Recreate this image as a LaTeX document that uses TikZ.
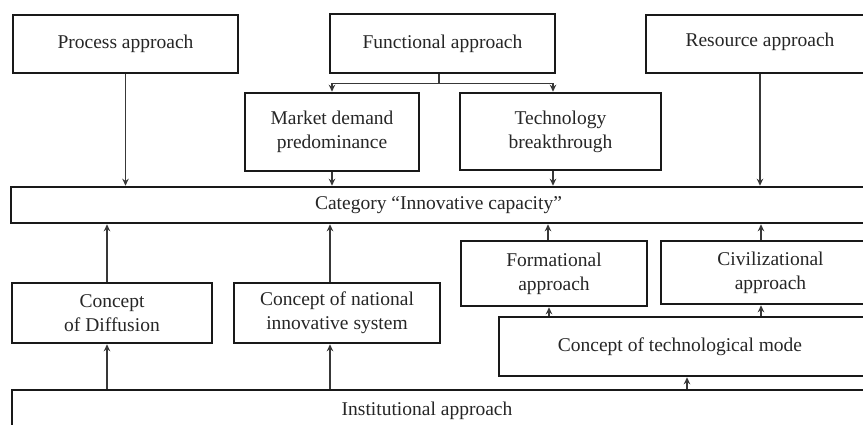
\documentclass[tikz,border=0pt]{standalone}
\usepackage{fontspec}
\setmainfont{Liberation Serif}
\usetikzlibrary{arrows.meta}
\begin{document}
\begin{tikzpicture}[x=1pt,y=-1pt,
  box/.style={draw=black!90, line width=2.6pt, inner sep=0pt, align=center,
    font=\fontsize{19.5}{24}\selectfont, text=black!85},
  txt/.style={inner sep=0pt, align=center, font=\fontsize{19.5}{24}\selectfont, text=black!85},
  arr/.style={line width=1.3pt, draw=black!78, -{Stealth[length=7pt,width=6.5pt]}},
  ln/.style={line width=1.3pt, draw=black!78}]
\useasboundingbox (0,0) rectangle (863,425);
\clip (0,0) rectangle (863,425);
% top row
\node[box, minimum width=225, minimum height=58] (proc) at (125.5,44) {Process approach};
\node[box, minimum width=225, minimum height=59] (func) at (442.5,43.5) {Functional approach};
\node[box, minimum width=234, minimum height=58,
  label={[txt, xshift=-3pt, yshift=2pt]center:Resource approach}] (res) at (763,44) {};
% second row
\node[box, minimum width=174, minimum height=78] (mkt) at (332,132) {Market demand\\predominance};
\node[box, minimum width=201, minimum height=77] (tech) at (560.5,131.5) {Technology\\breakthrough};
% category
\node[box, minimum width=855, minimum height=36] (cat) at (438.5,205) {Category \textquotedblleft Innovative capacity\textquotedblright};
% lower boxes
\node[box, minimum width=186, minimum height=65] (form) at (554,273.5) {Formational\\approach};
\node[box, minimum width=219, minimum height=63] (civ) at (770.5,272.5) {Civilizational\\approach};
\node[box, minimum width=200, minimum height=60] (diff) at (112,313) {Concept\\of Diffusion};
\node[box, minimum width=206, minimum height=60] (nat) at (337,313) {Concept of national\\innovative system};
\node[box, minimum width=381, minimum height=59,
  label={[txt, xshift=-9.5pt]center:Concept of technological mode}] (mode) at (689.5,346.5) {};
\node[box, minimum width=868, minimum height=42,
  label={[txt, xshift=-19pt]center:Institutional approach}] (inst) at (446,411) {};
% helper coordinates
\coordinate (fs) at ([xshift=-3.5pt]func.south);
\coordinate (br) at ([xshift=-3.5pt,yshift=-9pt]func.south);
\coordinate (tn) at ([xshift=-7.5pt]tech.north);
\coordinate (ts) at ([xshift=-7.5pt]tech.south);
\coordinate (rs) at ([xshift=-3pt]res.south);
\coordinate (dn) at ([xshift=-5pt]diff.north);
\coordinate (ds) at ([xshift=-5pt]diff.south);
\coordinate (nn) at ([xshift=-7pt]nat.north);
\coordinate (ns) at ([xshift=-7pt]nat.south);
\coordinate (fn) at ([xshift=-6pt]form.north);
\coordinate (fb) at ([xshift=-5pt]form.south);
\coordinate (cn) at ([xshift=-9.5pt]civ.north);
\coordinate (cb) at ([xshift=-9.5pt]civ.south);
\coordinate (ms) at ([xshift=-2.5pt]mode.south);
% connectors
\draw[ln] (fs) -- (br);
\draw[arr] (br) -| (mkt.north);
\draw[arr] (br) -| (tn);
\draw[arr] (proc.south) -- (proc.south |- cat.north);
\draw[arr] (mkt.south) -- (mkt.south |- cat.north);
\draw[arr] (ts) -- (ts |- cat.north);
\draw[arr] (rs) -- (rs |- cat.north);
\draw[arr] (dn) -- (dn |- cat.south);
\draw[arr] (nn) -- (nn |- cat.south);
\draw[arr] (fn) -- (fn |- cat.south);
\draw[arr] (cn) -- (cn |- cat.south);
\draw[arr] (ds |- inst.north) -- (ds);
\draw[arr] (ns |- inst.north) -- (ns);
\draw[arr] (fb |- mode.north) -- (fb);
\draw[arr] (cb |- mode.north) -- (cb);
\draw[arr] (ms |- inst.north) -- (ms);
\end{tikzpicture}
\end{document}
